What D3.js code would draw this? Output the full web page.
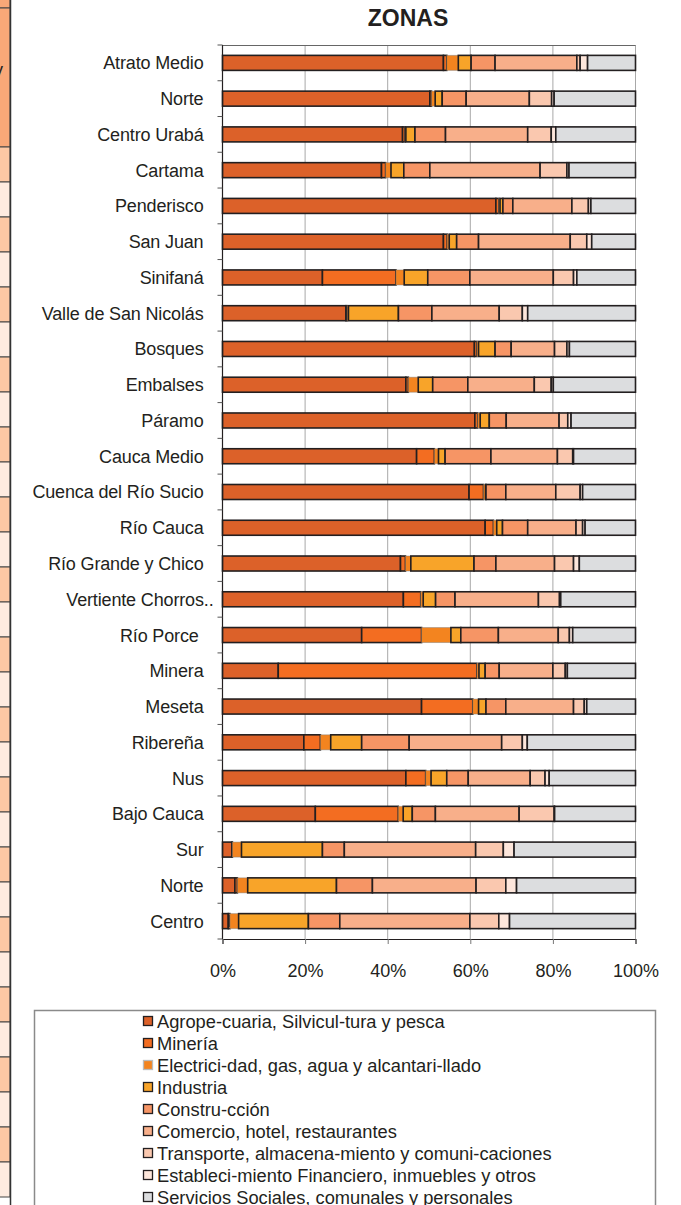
<!DOCTYPE html>
<html>
<head>
<meta charset="utf-8">
<script src="https://cdn.jsdelivr.net/npm/d3@7"></script>
<style>
  body { margin: 0; background: #fff; }
  text { font-family: "Liberation Sans", Arial, Helvetica, sans-serif; fill: #231f20; }
</style>
</head>
<body>
<div id="chart"></div>
<script>
const zonas = ['Atrato Medio', 'Norte', 'Centro Urabá', 'Cartama', 'Penderisco', 'San Juan', 'Sinifaná',
  'Valle de San Nicolás', 'Bosques', 'Embalses', 'Páramo', 'Cauca Medio', 'Cuenca del Río Sucio',
  'Río Cauca', 'Río Grande y Chico', 'Vertiente Chorros..', 'Río Porce ', 'Minera', 'Meseta',
  'Ribereña', 'Nus', 'Bajo Cauca', 'Sur', 'Norte', 'Centro'];

const sectores = ['Agrope-cuaria, Silvicul-tura y pesca', 'Minería', 'Electrici-dad, gas, agua y alcantari-llado',
  'Industria', 'Constru-cción', 'Comercio, hotel, restaurantes', 'Transporte, almacena-miento y comuni-caciones',
  'Estableci-miento Financiero, inmuebles y otros', 'Servicios Sociales, comunales y personales'];

const colores = ['#dc6129', '#f36d21', '#f3841f', '#f8a429', '#f69565', '#f8af8a', '#fac8af', '#fde6db', '#dcdddf'];

// % por zona (orden de zonas arriba)
const agropecuaria = [53.5, 50.2, 43.6, 38.5, 66.2, 53.5, 24.2, 29.9, 61.0, 44.4, 61.1, 47.0, 59.7, 63.6, 43.1, 43.8, 33.7, 13.5, 48.2, 19.7, 44.4, 22.5, 2.3, 3.0, 1.4];
const mineria      = [0.8, 0.4, 0.6, 1.0, 0.7, 0.9, 17.8, 0.3, 0.6, 0.6, 0.7, 4.3, 3.5, 2.0, 1.2, 4.2, 14.5, 48.1, 12.4, 4.0, 4.8, 20.1, 0.1, 0.6, 0.4];
const electricidad = [2.8, 0.9, 0.2, 1.3, 0.3, 0.5, 2.0, 0.3, 0.4, 2.4, 0.6, 1.0, 0.5, 0.8, 1.3, 0.6, 7.1, 0.5, 1.4, 2.5, 1.3, 1.2, 2.2, 2.5, 2.1];
const industria    = [3.1, 1.7, 2.2, 3.1, 0.7, 1.8, 5.7, 12.1, 4.0, 3.5, 2.2, 1.6, 0.1, 1.4, 15.3, 3.0, 2.4, 1.5, 1.8, 7.5, 3.8, 2.2, 19.6, 21.5, 16.9];
const construccion = [5.8, 5.8, 7.4, 6.3, 2.4, 5.3, 10.2, 8.1, 3.9, 8.5, 4.1, 11.1, 4.8, 6.1, 5.3, 4.7, 9.1, 3.4, 4.8, 11.5, 5.2, 5.6, 5.3, 8.7, 7.6];
const comercio     = [19.8, 15.3, 19.9, 26.7, 14.3, 22.2, 20.2, 16.3, 10.5, 16.1, 12.8, 16.1, 12.1, 11.7, 14.2, 20.2, 14.5, 13.0, 16.4, 22.4, 15.0, 20.3, 31.8, 25.1, 31.5];
const transporte   = [0.8, 5.4, 5.7, 6.5, 4.0, 4.0, 4.9, 5.6, 3.0, 4.1, 2.1, 3.7, 5.9, 1.6, 4.6, 5.1, 2.7, 3.0, 2.6, 5.0, 3.6, 8.5, 6.7, 7.2, 7.0];
const financiero   = [1.8, 0.6, 1.1, 0.5, 0.6, 1.2, 0.8, 1.3, 0.6, 0.5, 0.8, 0.2, 0.6, 0.6, 1.4, 0.3, 0.8, 0.5, 0.6, 1.2, 1.0, 0.1, 2.6, 2.6, 2.6];
const servicios    = [11.6, 19.7, 19.3, 16.1, 10.8, 10.6, 14.2, 26.1, 16.0, 19.9, 15.6, 15.0, 12.8, 12.2, 13.6, 18.1, 15.2, 16.5, 11.8, 26.2, 20.9, 19.6, 29.4, 28.8, 30.5];

const xTicks = [0, 0.2, 0.4, 0.6, 0.8, 1];

const width = 681;
const height = 1205;
const plot = {left: 222.5, right: 635.5, top: 45, bottom: 939};
const barHeight = 15;
const labelFont = '18px';

const series = [agropecuaria, mineria, electricidad, industria, construccion, comercio, transporte, financiero, servicios];
const keys = d3.range(series.length);
const rows = zonas.map((z, i) => {
  const r = {i: i};
  keys.forEach(k => { r[k] = series[k][i]; });
  return r;
});

const stack = d3.stack().keys(keys).offset(d3.stackOffsetExpand)(rows);

const xScale = d3.scaleLinear().domain([0, 1]).range([plot.left, plot.right]);
const yScale = d3.scaleBand().domain(d3.range(zonas.length)).range([plot.top, plot.bottom]);
const step = yScale.step();

const svg = d3.select('#chart').append('svg')
  .attr('width', width)
  .attr('height', height);

// pedazo de tabla que quedó recortado a la izquierda
const strip = svg.append('g');
strip.append('rect').attr('x', -2).attr('y', -2).attr('width', 12).attr('height', 10)
  .attr('fill', '#f9a878').attr('stroke', '#444');
strip.append('rect').attr('x', -2).attr('y', 8).attr('width', 12).attr('height', 139)
  .attr('fill', '#f9a878').attr('stroke', '#444');
strip.append('text').attr('x', -6).attr('y', 76).style('font-size', '18px').text('y');
const cellH = 35;
d3.range(30).forEach(k => {
  strip.append('rect')
    .attr('x', -2).attr('y', 147 + k * cellH)
    .attr('width', 12).attr('height', cellH)
    .attr('fill', k % 2 === 0 ? '#fdc8a4' : '#feebe0')
    .attr('stroke', '#444').attr('stroke-width', 1);
});
strip.append('line').attr('x1', 10.5).attr('x2', 10.5).attr('y1', 0).attr('y2', height)
  .attr('stroke', '#333').attr('stroke-width', 1.5);

// titulo
svg.append('text')
  .attr('x', 408)
  .attr('y', 26)
  .attr('text-anchor', 'middle')
  .style('font-size', '23px')
  .style('font-weight', 'bold')
  .text('ZONAS');

// rejilla
svg.append('g').selectAll('line')
  .data(xTicks.slice(1))
  .join('line')
  .attr('x1', d => xScale(d)).attr('x2', d => xScale(d))
  .attr('y1', plot.top).attr('y2', plot.bottom)
  .attr('stroke', '#a8a8a8').attr('stroke-width', 1);

svg.append('line')
  .attr('x1', plot.left).attr('x2', plot.right)
  .attr('y1', plot.top + 0.5).attr('y2', plot.top + 0.5)
  .attr('stroke', '#666').attr('stroke-width', 1);

// barras
svg.append('g').selectAll('g')
  .data(stack)
  .join('g')
  .attr('fill', d => colores[d.key])
  .attr('stroke', d => d.key === 2 ? 'rgba(120,120,120,0.45)' : '#231f20')
  .attr('stroke-width', d => d.key === 2 ? 1 : 1.6)
  .selectAll('rect')
  .data(d => d)
  .join('rect')
  .attr('x', d => xScale(d[0]))
  .attr('width', d => Math.max(0, xScale(d[1]) - xScale(d[0])))
  .attr('y', d => yScale(d.data.i) + (step - barHeight) / 2)
  .attr('height', barHeight);

// eje y
const yAxis = svg.append('g');
yAxis.append('line')
  .attr('x1', plot.left).attr('x2', plot.left)
  .attr('y1', plot.top).attr('y2', plot.bottom)
  .attr('stroke', '#231f20').attr('stroke-width', 1.2);
yAxis.selectAll('.tk')
  .data(d3.range(zonas.length + 1))
  .join('line')
  .attr('class', 'tk')
  .attr('x1', plot.left - 5).attr('x2', plot.left)
  .attr('y1', d => plot.top + d * step).attr('y2', d => plot.top + d * step)
  .attr('stroke', '#555').attr('stroke-width', 1);
yAxis.selectAll('.lbl')
  .data(zonas)
  .join('text')
  .attr('class', 'lbl')
  .attr('x', (d, i) => d.endsWith('..') ? plot.left - 9 : plot.left - 19)
  .attr('y', (d, i) => yScale(i) + step / 2)
  .attr('dy', '0.36em')
  .attr('text-anchor', 'end')
  .style('font-size', labelFont)
  .style('letter-spacing', '-0.15px')
  .style('white-space', 'pre')
  .text(d => d);

// eje x
const xAxis = svg.append('g')
  .attr('transform', `translate(0,${plot.bottom})`)
  .call(d3.axisBottom(xScale).tickValues(xTicks).tickFormat(d3.format('.0%')).tickSize(5).tickPadding(20));
xAxis.select('.domain').attr('stroke', '#231f20').attr('stroke-width', 1.2);
xAxis.selectAll('.tick line').attr('stroke', '#777');
xAxis.selectAll('.tick text')
  .style('font-size', labelFont)
  .style('font-family', '"Liberation Sans", Arial, sans-serif')
  .attr('fill', '#231f20');

// leyenda
const legend = svg.append('g');
legend.append('rect')
  .attr('x', 34.5).attr('y', 1010.5)
  .attr('width', 621).attr('height', 220)
  .attr('fill', 'none')
  .attr('stroke', '#8a8a8a').attr('stroke-width', 1.5);

const legendRow = 22;
const items = legend.selectAll('.it')
  .data(sectores)
  .join('g')
  .attr('class', 'it')
  .attr('transform', (d, i) => `translate(143,${1021 + i * legendRow})`);
items.append('rect')
  .attr('x', 0.5).attr('y', -4.5)
  .attr('width', 9).attr('height', 9)
  .attr('fill', (d, i) => colores[i])
  .attr('stroke', (d, i) => i === 2 ? '#bbb' : '#231f20')
  .attr('stroke-width', 1.3);
items.append('text')
  .attr('x', 14)
  .attr('dy', '0.36em')
  .style('font-size', '18.3px')
  .text(d => d);
</script>
</body>
</html>
